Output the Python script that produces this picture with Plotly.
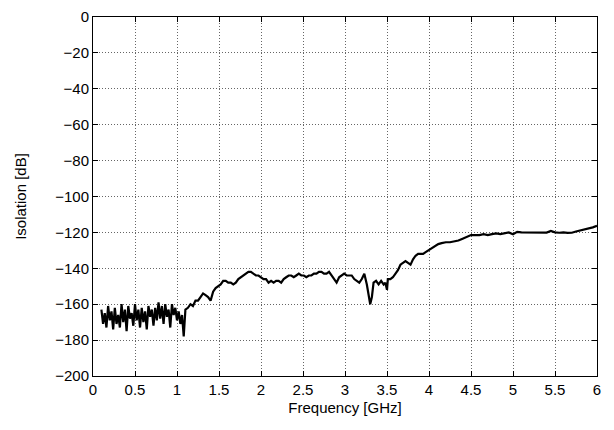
import plotly.graph_objects as go

# frequency points [GHz]
freq = [
    0.10, 0.12, 0.14, 0.16, 0.18, 0.20, 0.22, 0.24, 0.26, 0.28,
    0.30, 0.32, 0.34, 0.36, 0.38, 0.40, 0.42, 0.44, 0.46, 0.48,
    0.50, 0.52, 0.54, 0.56, 0.58, 0.60, 0.62, 0.64, 0.66, 0.68,
    0.70, 0.72, 0.74, 0.76, 0.78, 0.80, 0.82, 0.84, 0.86, 0.88,
    0.90, 0.92, 0.94, 0.96, 0.98, 1.00, 1.02, 1.04, 1.06, 1.08,
    1.10, 1.13, 1.16, 1.19, 1.22, 1.25, 1.28, 1.31, 1.34, 1.37,
    1.40, 1.43, 1.46, 1.49, 1.52, 1.55, 1.58, 1.61, 1.64, 1.67,
    1.70, 1.73, 1.76, 1.79, 1.82, 1.85, 1.88, 1.91, 1.94, 1.97,
    2.00, 2.03, 2.06, 2.09, 2.12, 2.15, 2.18, 2.21, 2.24, 2.27,
    2.30, 2.33, 2.36, 2.39, 2.42, 2.45, 2.48, 2.51, 2.54, 2.57,
    2.60, 2.63, 2.66, 2.69, 2.72, 2.75, 2.78, 2.81, 2.84, 2.87,
    2.90, 2.93, 2.96, 2.99, 3.02, 3.05, 3.08, 3.11, 3.14, 3.17,
    3.20, 3.23, 3.26, 3.28, 3.30, 3.32, 3.34, 3.37, 3.40, 3.43,
    3.46, 3.48, 3.50, 3.51, 3.54, 3.57, 3.60, 3.63, 3.66, 3.69,
    3.72, 3.75, 3.78, 3.81, 3.84, 3.87, 3.90, 3.93, 3.96, 3.99,
    4.02, 4.05, 4.08, 4.11, 4.15, 4.20, 4.25, 4.30, 4.35, 4.40,
    4.45, 4.50, 4.55, 4.60, 4.65, 4.70, 4.75, 4.80, 4.85, 4.90,
    4.95, 5.00, 5.05, 5.10, 5.15, 5.20, 5.25, 5.30, 5.35, 5.40,
    5.45, 5.50, 5.55, 5.60, 5.65, 5.70, 5.75, 5.80, 5.85, 5.90,
    5.95, 6.00,
]

# isolation [dB]
isolation = [
    -163, -171, -165, -173, -161, -169, -164, -174, -162, -171,
    -166, -173, -160, -170, -163, -175, -161, -168, -165, -172,
    -160, -169, -163, -173, -162, -170, -164, -174, -161, -167,
    -163, -172, -162, -169, -159, -168, -161, -171, -160, -167,
    -163, -173, -160, -166, -162, -169, -164, -171, -166, -178,
    -163, -162, -160, -161, -158, -158, -156, -154, -155, -156,
    -158, -153, -151, -150, -149, -147, -147, -148, -148, -149,
    -148, -146, -145, -144, -143, -142, -142, -143, -144, -144,
    -145, -146, -146, -148, -147, -148, -147, -147, -148, -146,
    -145, -144, -144, -145, -144, -143, -144, -144, -145, -144,
    -144, -143, -143, -142, -142, -143, -143, -142, -144, -146,
    -148, -145, -144, -143, -144, -144, -144, -146, -147, -148,
    -146, -143, -149, -155, -160, -156, -148, -147, -149, -147,
    -149, -148, -152, -146, -146, -145, -143, -141, -138, -137,
    -136, -137, -138, -135, -133, -132, -132, -132, -131, -130,
    -129, -128, -127, -126.5, -126, -125.5, -125.5, -125, -124.5, -123.5,
    -122.5, -121.5, -121.5, -121.5, -121, -121.5, -121, -120.5, -121, -120.5,
    -120, -121, -119.7, -120, -120, -120.2, -120.3, -120.2, -120.3, -120.1,
    -119.2, -120, -120.2, -120, -120.3, -120.2, -119.5, -119, -118.5, -118,
    -117.2, -116.3,
]

x_ticks = [0, 0.5, 1, 1.5, 2, 2.5, 3, 3.5, 4, 4.5, 5, 5.5, 6]
y_ticks = list(range(-200, 1, 20))

fig = go.Figure()
fig.add_trace(go.Scatter(
    x=freq, y=isolation, mode="lines",
    line=dict(color="black", width=2.2),
    showlegend=False,
))

axis_style = dict(
    showline=True, linecolor="black", linewidth=1, mirror="ticks",
    ticks="inside", ticklen=5, tickcolor="black",
    showgrid=True, gridcolor="#666666", griddash="1px,2px", gridwidth=1,
    zeroline=False, automargin=False,
    tickfont=dict(family="Liberation Sans, Arial", size=15, color="black"),
    title_font=dict(family="Liberation Sans, Arial", size=15, color="black"),
)

fig.update_xaxes(range=[0, 6], tickvals=x_ticks, ticktext=[f"{t:g}" for t in x_ticks],
                 title_text="Frequency [GHz]", title_standoff=5, **axis_style)
fig.update_yaxes(range=[-200, 0], tickvals=y_ticks,
                 title_text="Isolation [dB]", title_standoff=24, **axis_style)

# page body adds an 8px margin, so the figure is sized to fit the window
fig.update_layout(
    width=606, height=422,
    margin=dict(l=85, r=17, t=9, b=54),
    plot_bgcolor="white", paper_bgcolor="white",
)

fig.write_html("out.html")
